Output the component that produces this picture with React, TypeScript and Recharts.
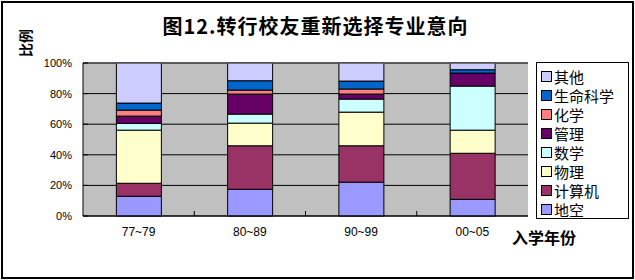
import React from 'react';
import { BarChart, Bar, XAxis, YAxis, CartesianGrid, Legend, ReferenceLine, Label } from 'recharts';

const categories = ['77~79', '80~89', '90~99', '00~05'];
const diKong = [12.9, 17.5, 22.1, 10.9];
const jiSuanJi = [8.5, 28.4, 23.8, 30.1];
const wuLi = [34.7, 14.8, 22.0, 15.1];
const shuXue = [4.4, 5.9, 8.5, 28.8];
const guanLi = [4.8, 13.1, 3.3, 8.5];
const huaXue = [3.9, 2.6, 3.3, 0];
const shengMing = [4.6, 6.1, 5.2, 2.2];
const qiTa = [26.2, 11.6, 11.8, 4.4];
const yTicks = [0, 20, 40, 60, 80, 100];

const seriesDefs = [
  { key: 'diKong', name: '地空', values: diKong, color: '#9999FF' },
  { key: 'jiSuanJi', name: '计算机', values: jiSuanJi, color: '#993366' },
  { key: 'wuLi', name: '物理', values: wuLi, color: '#FFFFCC' },
  { key: 'shuXue', name: '数学', values: shuXue, color: '#CCFFFF' },
  { key: 'guanLi', name: '管理', values: guanLi, color: '#660066' },
  { key: 'huaXue', name: '化学', values: huaXue, color: '#FF8080' },
  { key: 'shengMing', name: '生命科学', values: shengMing, color: '#0066CC' },
  { key: 'qiTa', name: '其他', values: qiTa, color: '#CCCCFF' },
];

const data = categories.map((c, i) => {
  const row: Record<string, any> = { cat: c };
  seriesDefs.forEach((s) => { row[s.key] = s.values[i]; });
  return row;
});

const tickFont = { fontFamily: '"Liberation Sans", Arial, sans-serif', fontSize: 11, fill: '#000' };
const X_TICK_MARGIN = 11;

const XTick = (props: any) => {
  const { x, y, payload } = props;
  let half = payload && typeof payload.offset === 'number' && payload.offset > 0 ? payload.offset : 0;
  if (!half && props.width && props.visibleTicksCount) half = props.width / props.visibleTicksCount / 2;
  const axisY = y - X_TICK_MARGIN;
  const notFirst = payload && payload.value !== categories[0];
  return (
    <g>
      {notFirst && half > 0 && (
        <line x1={x - half} x2={x - half} y1={axisY} y2={axisY - 5} stroke="#000" strokeWidth={1} />
      )}
      <text x={x} y={y} dy="0.71em" textAnchor="middle" fontFamily='"Liberation Sans", Arial, sans-serif' fontSize={12} fill="#000">
        {payload.value}
      </text>
    </g>
  );
};

const renderLegend = () => (
  <div style={{
    width: 93, height: 157, boxSizing: 'border-box', border: '1px solid #000', background: '#fff',
    paddingTop: 4, paddingLeft: 4, fontFamily: '"Noto Sans CJK SC", sans-serif', fontSize: 15,
  }}>
    {[...seriesDefs].reverse().map((s) => (
      <div key={s.key} style={{ height: 19, display: 'flex', alignItems: 'center', lineHeight: '19px' }}>
        <span style={{ width: 9, height: 9, background: s.color, border: '1px solid #000', display: 'inline-block', marginRight: 2, flex: 'none' }} />
        <span>{s.name}</span>
      </div>
    ))}
  </div>
);

export default function App() {
  return (
    <div style={{ position: 'absolute', left: 0, top: 0, width: 635, height: 280, background: '#fff' }}>
      <div style={{ position: 'absolute', left: 1, top: 1, width: 633, height: 278, boxSizing: 'border-box', border: '2px solid #000' }} />
      <div style={{
        position: 'absolute', left: 0, width: 635, top: 12, textAlign: 'center', marginLeft: -2,
        fontFamily: '"Noto Sans CJK SC", sans-serif', fontWeight: 'bold', fontSize: 20, lineHeight: '28px', letterSpacing: 1,
      }}>图12.转行校友重新选择专业意向</div>
      <div style={{
        position: 'absolute', left: 25, top: 43, transform: 'translate(-50%, -50%) rotate(-90deg)',
        fontFamily: '"Noto Sans CJK SC", sans-serif', fontWeight: 'bold', fontSize: 14, whiteSpace: 'nowrap',
      }}>比例</div>
      <div style={{ position: 'absolute', left: 0, top: 0 }}>
        <BarChart width={635} height={280} data={data} margin={{ top: 63, right: 107, bottom: 34, left: 0 }} barCategoryGap="30%">
          <CartesianGrid vertical={false} stroke="#000" fill="#C0C0C0" />
          <XAxis dataKey="cat" height={30} tickLine={false} tickSize={0} tickMargin={X_TICK_MARGIN} axisLine={{ stroke: '#000' }} tick={(p: any) => <XTick {...p} />}>
            <Label content={(props: any) => {
              const vb = props.viewBox || {};
              return (
                <text x={vb.x + vb.width - 16} y={vb.y + 28} fontFamily='"Noto Sans CJK SC", sans-serif' fontWeight="bold" fontSize={16} fill="#000">入学年份</text>
              );
            }} />
          </XAxis>
          <YAxis width={83} domain={[0, 100]} ticks={yTicks} tickFormatter={(v) => `${v}%`} tickSize={-5} tickMargin={16} axisLine={{ stroke: '#000' }} tickLine={{ stroke: '#000' }} tick={tickFont} />
          <ReferenceLine y={100} stroke="#808080" />
          {seriesDefs.map((s) => (
            <Bar key={s.key} dataKey={s.key} name={s.name} stackId="a" fill={s.color} stroke="#000" strokeWidth={1} isAnimationActive={false} />
          ))}
          <Legend layout="vertical" align="center" verticalAlign="middle" content={renderLegend}
            wrapperStyle={{ position: 'absolute', left: 536, top: 62, width: 93, height: 157 }} />
        </BarChart>
      </div>
    </div>
  );
}
